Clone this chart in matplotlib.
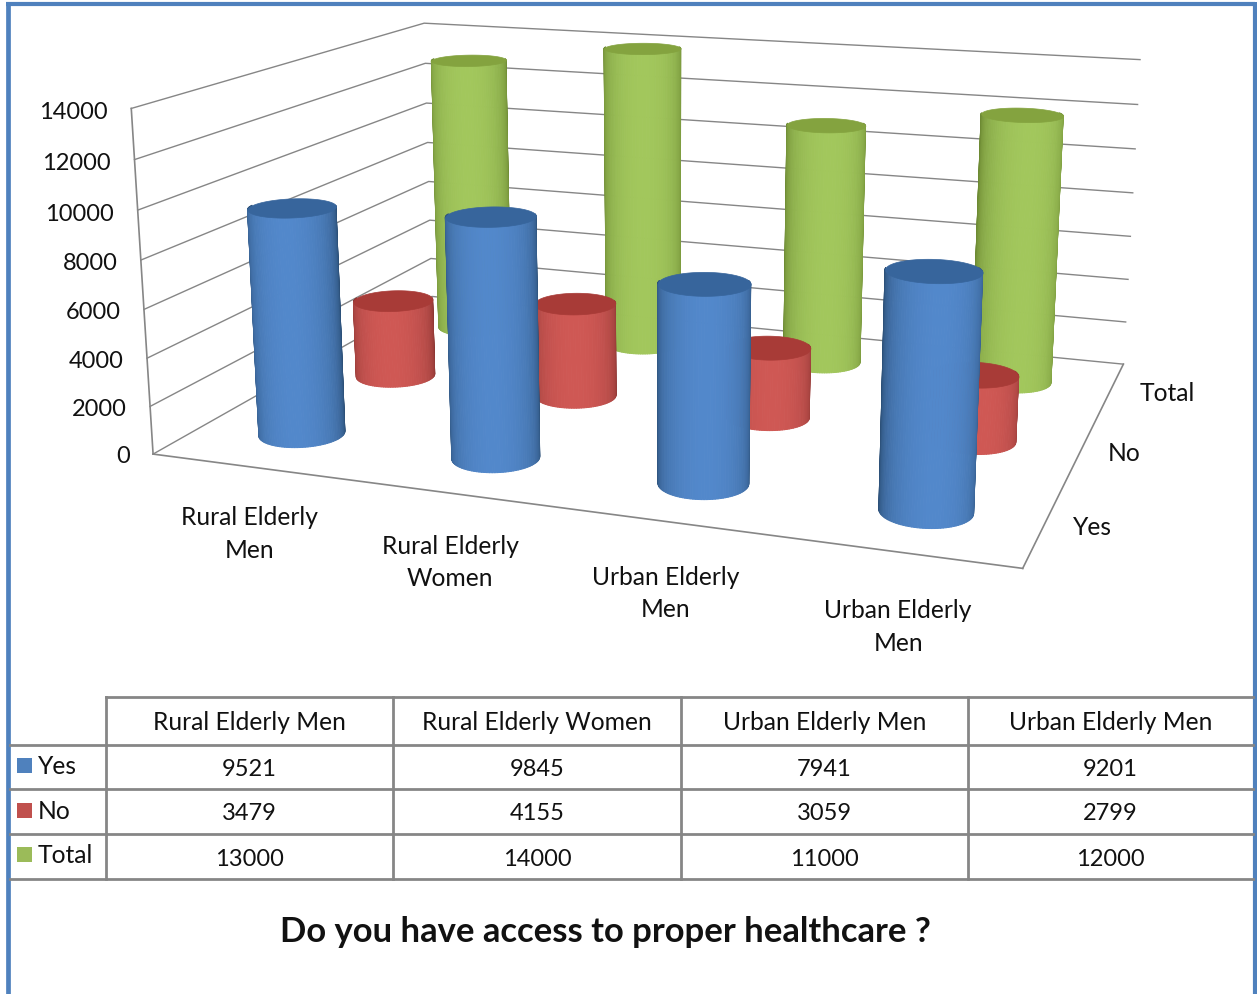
import numpy as np
import matplotlib
matplotlib.use("Agg")
import matplotlib.pyplot as plt
from mpl_toolkits.mplot3d import proj3d
from mpl_toolkits.mplot3d.art3d import Poly3DCollection

plt.rcParams['font.family'] = ['Lato', 'DejaVu Sans']

categories = ["Rural Elderly Men", "Rural Elderly Women", "Urban Elderly Men", "Urban Elderly Men"]
axis_labels = ["Rural Elderly\nMen", "Rural Elderly\nWomen", "Urban Elderly\nMen", "Urban Elderly\nMen"]
series = ["Yes", "No", "Total"]
yes = [9521, 9845, 7941, 9201]
no = [3479, 4155, 3059, 2799]
total = [13000, 14000, 11000, 12000]
ticks = [0, 2000, 4000, 6000, 8000, 10000, 12000, 14000]
title = "Do you have access to proper healthcare ?"

values = [yes, no, total]
colors = ['#4f81bd', '#c0504d', '#9bbb59']
edges = ['#2c5078', '#8a3532', '#6d8a33']
centers = ['#5288cb', '#cf5854', '#a2c75c']
caps = ['#37659c', '#a83b37', '#84a33f']
GRID = '#868686'
TXT = '#111111'

W, H = 1257, 994
ELEV, AZIM, FOCAL = 13.959, -70.39, 0.3687
BX, BY = 2.4896, 1.8091
SIDE, LEFT, BOTTOM = 1047.7, 132.27, 208.62
RX = 0.2
RY = RX * (BX / 4) / (BY / 3)

fig = plt.figure(figsize=(W / 100, H / 100), dpi=100)
ax = fig.add_axes([LEFT / W, BOTTOM / H, SIDE / W, SIDE / H], projection='3d', computed_zorder=False)
ax.patch.set_alpha(0)
ax.set_xlim(0, 4, view_margin=0)
ax.set_ylim(0, 3, view_margin=0)
ax.set_zlim(0, 14000, view_margin=0)
ax.view_init(ELEV, AZIM)
ax.set_proj_type('persp', focal_length=FOCAL)
ax.set_box_aspect((BX, BY, 1))
ax.set_axis_off()

# flat layer in pixel coordinates: labels, border, data table, title
ov = fig.add_axes([0, 0, 1, 1])
ov.set_xlim(0, W)
ov.set_ylim(H, 0)
ov.axis('off')
ov.patch.set_alpha(0)


def label3d(x, y, z, s, **kw):
    # put a flat label where a point of the 3d box lands
    vx, vy, _ = proj3d.proj_transform(x, y, z, ax.get_proj())
    px, py = ax.transData.transform((vx, vy))
    ov.text(px, H - py, s, color=TXT, **kw)


def cylinder(x0, y0, h, rx, ry, k, z):
    # only the half facing the camera is needed
    a = np.radians(AZIM)
    t = np.linspace(a - np.radians(105), a + np.radians(105), 61)
    X = np.array([x0 + rx * np.cos(t)] * 2)
    Y = np.array([y0 + ry * np.sin(t)] * 2)
    Z = np.array([np.zeros_like(t), np.full_like(t, h)])
    dot = np.clip(np.cos(t - a), 0, 1) ** 0.7
    c0 = np.array(matplotlib.colors.to_rgb(edges[k]))
    c1 = np.array(matplotlib.colors.to_rgb(centers[k]))
    fc = c0[None, :] + dot[:, None] * (c1 - c0)[None, :]
    fc = np.array([fc, fc])
    ax.plot_surface(X, Y, Z, facecolors=fc, rstride=1, cstride=1, shade=False,
                    linewidth=0.7, antialiased=True, zorder=z)
    t2 = np.linspace(0, 2 * np.pi, 73)
    cap = list(zip(x0 + rx * np.cos(t2), y0 + ry * np.sin(t2), np.full_like(t2, h)))
    poly = Poly3DCollection([cap], facecolor=caps[k], edgecolor=caps[k], linewidth=0.5, zorder=z + 0.5)
    ax.add_collection3d(poly)


# floor outline, value axis and wall grid
ax.plot([0, 4], [0, 0], [0, 0], color=GRID, lw=1.2, zorder=1, clip_on=False)
ax.plot([4, 4], [0, 3], [0, 0], color=GRID, lw=1.2, zorder=1, clip_on=False)
ax.plot([0, 0], [0, 0], [0, 14000], color=GRID, lw=1.2, zorder=1, clip_on=False)
for v in ticks:
    ax.plot([0, 0, 4], [0, 3, 3], [v, v, v], color=GRID, lw=1, zorder=1, clip_on=False)
    label3d(-0.125, 0, v - 240, str(v), ha='right', va='center', fontsize=17)

# back row first so the near cylinders cover it
z = 10
for j in (2, 1, 0):
    for i in range(4):
        cylinder(i + 0.5, j + 0.5, values[j][i], RX, RY, j, z)
        z += 1

for i, lab in enumerate(axis_labels):
    label3d(i + 0.515, -0.05, -2640, lab, ha='center', va='center', fontsize=17.7, linespacing=1.5)
for j, lab in enumerate(series):
    label3d([4.2, 4.2, 4.28][j], j + 0.5, 150, lab, ha='center', va='center', fontsize=17.7)

ov.plot([8, 8], [H, 4], color='#4f81bd', lw=3.4, solid_capstyle='butt')
ov.plot([6, 1255], [4, 4], color='#4f81bd', lw=3, solid_capstyle='butt')
ov.plot([1255, 1255], [2, H], color='#4f81bd', lw=3, solid_capstyle='butt')

row_y = [745, 789, 834, 879]
col_x = [106, 393, 681, 968, 1253]
ov.plot([106, 1253], [697, 697], color=GRID, lw=2)
for y in row_y:
    ov.plot([10, 1253], [y, y], color=GRID, lw=2)
for x in col_x[:-1]:
    ov.plot([x, x], [697, 879], color=GRID, lw=2)

for i, cat in enumerate(categories):
    ov.text((col_x[i] + col_x[i + 1]) / 2, 722, cat, ha='center', va='center', fontsize=17.7, color=TXT)
for j, name in enumerate(series):
    ym = [765.5, 810.5, 854.5][j]
    ov.add_patch(plt.Rectangle((17, ym - 7.5), 15, 15, color=colors[j], lw=0))
    ov.text(38, ym + 1, name, ha='left', va='center', fontsize=17.7, color=TXT)
    for i in range(4):
        ov.text((col_x[i] + col_x[i + 1]) / 2, [769, 814, 859][j], str(values[j][i]),
                ha='center', va='center', fontsize=17, color=TXT)

ov.text(605, 932, title, ha='center', va='center', fontsize=24.9, fontweight='bold', color=TXT)

fig.savefig("out.png", dpi=100)
